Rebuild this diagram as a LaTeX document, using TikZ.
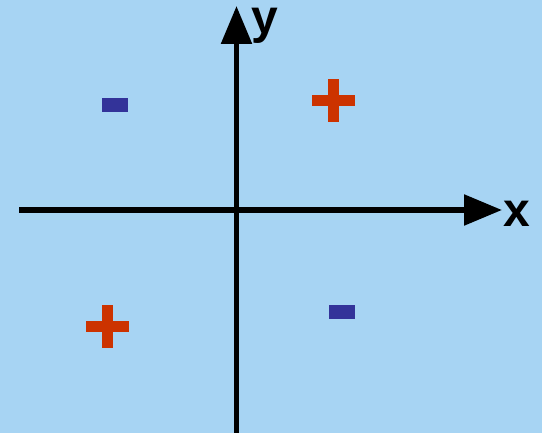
\documentclass[tikz,border=0pt]{standalone}
\usepackage{fontspec}
\setmainfont{Liberation Sans}
\usetikzlibrary{positioning,arrows.meta}
\definecolor{sky}{HTML}{A7D4F3}
\definecolor{plusred}{HTML}{CC3300}
\definecolor{minusblue}{HTML}{333399}

\begin{document}
\begin{tikzpicture}[x=1pt,y=-1pt,axis/.style={line width=5.5pt,draw=black,-{Triangle[length=38pt,width=30pt]}},lbl/.style={font=\fontsize{48}{48}\selectfont\bfseries,inner sep=0pt,anchor=base},plusbar/.style={fill=plusred},minusbar/.style={fill=minusblue}]
\fill[sky] (0,0) rectangle (542,433);
\useasboundingbox (0,0) rectangle (542,433);
\coordinate (xstart) at (19,210);
\coordinate (xend) at (502,210);
\coordinate (ystart) at (236.5,433);
\coordinate (yend) at (236.5,6);
\draw[axis] (xstart)--(xend);
\draw[axis] (ystart)--(yend);
\node[lbl] (xlabel) at (517,227) {x};
\node[lbl] (ylabel) at (265,34) {y};
% plus signs
\foreach \cx/\cy in {333.5/100.5,107/327}{
  \fill[plusbar] (\cx-5.5,\cy-21.5) rectangle (\cx+5.5,\cy+21.5);
  \fill[plusbar] (\cx-21.5,\cy-5.5) rectangle (\cx+21.5,\cy+5.5);
}
% minus signs
\foreach \cx/\cy in {115/105,342/312}{
  \fill[minusbar] (\cx-13,\cy-7) rectangle (\cx+13,\cy+7);
}
\end{tikzpicture}
\end{document}
